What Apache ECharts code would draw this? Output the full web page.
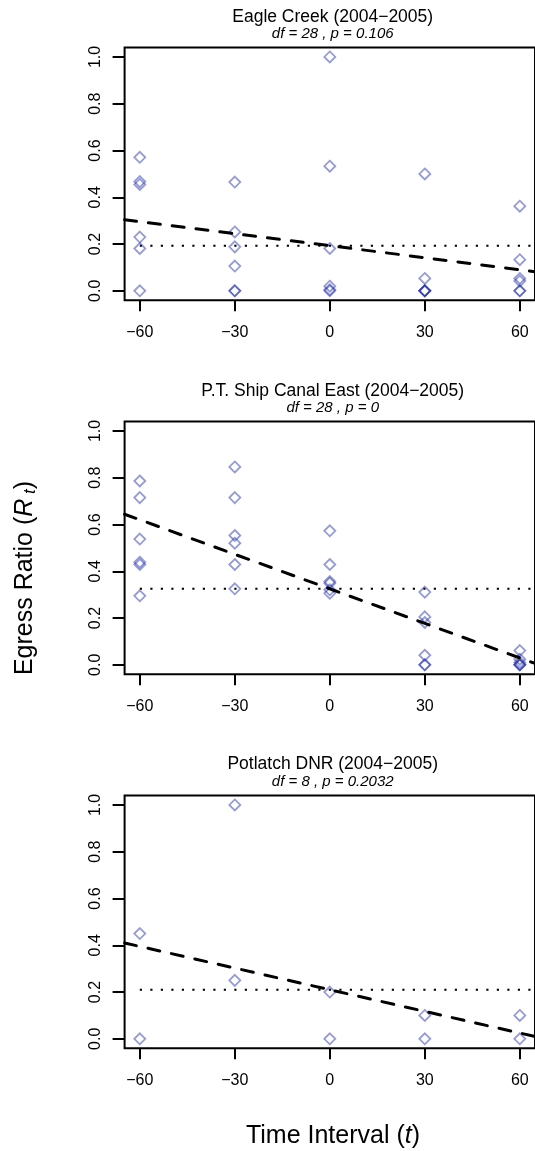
<!DOCTYPE html>
<html>
<head>
<meta charset="utf-8">
<script src="https://cdn.jsdelivr.net/npm/echarts@6/dist/echarts.min.js"></script>
<style>
html,body{margin:0;padding:0;background:#fff;}
#c{width:535px;height:1151px;}
</style>
</head>
<body>
<div id="c"></div>
<script>
// ---- data ----
const panelTitles = ['Eagle Creek (2004\u22122005)', 'P.T. Ship Canal East (2004\u22122005)', 'Potlatch DNR (2004\u22122005)'];
const panelStats = ['df = 28 , p = 0.106', 'df = 28 , p = 0', 'df = 8 , p = 0.2032'];
const xTicks = [-60, -30, 0, 30, 60];
const yTicks = [0, 0.2, 0.4, 0.6, 0.8, 1.0];

// time interval per point, and egress ratio per point
const eagleX = [-60,-60,-60,-60,-60,-60, -30,-30,-30,-30,-30,-30, 0,0,0,0,0,0, 30,30,30,30,30,30, 60,60,60,60,60,60];
const eagleY = [0.571,0.467,0.455,0.230,0.181,0.0, 0.465,0.252,0.188,0.106,0.0,0.0, 1.0,0.533,0.181,0.020,0.005,0.0, 0.500,0.053,0.0,0.0,0.0,0.0, 0.362,0.133,0.053,0.042,0.0,0.0];

const ptX = [-60,-60,-60,-60,-60,-60, -30,-30,-30,-30,-30,-30, 0,0,0,0,0,0, 30,30,30,30,30,30, 60,60,60,60,60,60];
const ptY = [0.786,0.715,0.538,0.439,0.429,0.295, 0.846,0.715,0.553,0.520,0.429,0.325, 0.573,0.429,0.356,0.349,0.321,0.306, 0.311,0.205,0.181,0.041,0.0,0.0, 0.061,0.024,0.010,0.0,0.0,0.0];

const potX = [-60,-60, -30,-30, 0,0, 30,30, 60,60];
const potY = [0.45,0.0, 1.0,0.25, 0.2,0.0, 0.1,0.0, 0.1,0.0];

// mean level (dotted) and fitted line values at the left/right plot edges (dashed)
const meanLevels = [0.193, 0.325, 0.210];
const fitLeft = [0.304, 0.644, 0.410];
const fitRight = [0.082, 0.006, 0.010];

const xLimits = [-64.8, 64.8];
const yLimits = [-0.04, 1.04];

// ---- layout ----
const panelX = [eagleX, ptX, potX];
const panelY = [eagleY, ptY, potY];
const gridTops = [47.6, 421.6, 795.6];
const gridH = 252.6;
const gridLeft = 124.6;
const gridW = 416.1;
const titleY = [16.7, 391, 764.3];
const subY = [34, 407.7, 782];
const FONT = '"Liberation Sans", Arial, Helvetica, sans-serif';

const chart = echarts.init(document.getElementById('c'), null, {renderer: 'canvas'});

const grids = [], xAxes = [], yAxes = [], series = [], graphics = [];
for (let i = 0; i < 3; i++) {
  grids.push({left: gridLeft, top: gridTops[i], width: gridW, height: gridH, show: true,
    borderColor: '#000', borderWidth: 2, backgroundColor: 'transparent', containLabel: false});
  xAxes.push({type: 'value', gridIndex: i, min: xLimits[0], max: xLimits[1], position: 'bottom',
    axisLine: {show: false, onZero: false},
    splitLine: {show: false},
    axisTick: {show: true, customValues: xTicks, length: 11, lineStyle: {color: '#000', width: 2}},
    axisLabel: {show: true, customValues: xTicks, margin: 24, color: '#000', fontSize: 16, fontFamily: FONT,
      formatter: v => (v < 0 ? '\u2212' + Math.abs(v) : String(v))}
  });
  yAxes.push({type: 'value', gridIndex: i, min: yLimits[0], max: yLimits[1], position: 'left',
    axisLine: {show: false, onZero: false},
    splitLine: {show: false},
    axisTick: {show: true, customValues: yTicks, length: 12, lineStyle: {color: '#000', width: 2}},
    axisLabel: {show: true, customValues: yTicks, rotate: 90, margin: 21, color: '#000', fontSize: 16, fontFamily: FONT,
      formatter: v => Number(v).toFixed(1)}
  });
  const pts = panelX[i].map((x, k) => [x, panelY[i][k]]);
  series.push({type: 'scatter', xAxisIndex: i, yAxisIndex: i, data: pts, symbol: 'diamond', symbolSize: 11,
    itemStyle: {color: 'rgba(0,0,0,0)', borderColor: 'rgba(40,52,172,0.62)', borderWidth: 1.8},
    emphasis: {disabled: true}, silent: true, z: 3});
  series.push({type: 'line', xAxisIndex: i, yAxisIndex: i, data: [[xTicks[0], meanLevels[i]], [xLimits[1], meanLevels[i]]],
    symbol: 'none', lineStyle: {color: '#000', width: 2, type: [2.2, 8.3]}, silent: true, z: 2});
  series.push({type: 'line', xAxisIndex: i, yAxisIndex: i, data: [[xLimits[0], fitLeft[i]], [xLimits[1], fitRight[i]]],
    symbol: 'none', lineStyle: {color: '#000', width: 3, type: [12, 12], cap: 'round'}, silent: true, z: 4});

  graphics.push({type: 'text', x: 332.7, y: titleY[i], style: {text: panelTitles[i], font: '17.5px ' + FONT,
    fill: '#000', align: 'center', verticalAlign: 'middle', textAlign: 'center', textVerticalAlign: 'middle'}});
  graphics.push({type: 'text', x: 332.7, y: subY[i], style: {text: panelStats[i], font: 'italic 15px ' + FONT,
    fill: '#000', align: 'center', verticalAlign: 'middle', textAlign: 'center', textVerticalAlign: 'middle'}});
}

graphics.push({type: 'text', x: 25, y: 578, rotation: Math.PI / 2,
  style: {text: '{a|Egress Ratio (}{i|R}{s| t}{a|)}', fill: '#000',
    align: 'center', verticalAlign: 'middle', textAlign: 'center', textVerticalAlign: 'middle',
    rich: {
      a: {fontSize: 25, fontFamily: FONT, fill: '#000', color: '#000'},
      i: {fontSize: 25, fontFamily: FONT, fontStyle: 'italic', fill: '#000', color: '#000'},
      s: {fontSize: 17, fontFamily: FONT, fontStyle: 'italic', fill: '#000', color: '#000', padding: [10, 0, 0, 0]}
    }}});
graphics.push({type: 'text', x: 333, y: 1136,
  style: {text: '{a|Time Interval (}{i|t}{a|)}', fill: '#000',
    align: 'center', verticalAlign: 'middle', textAlign: 'center', textVerticalAlign: 'middle',
    rich: {
      a: {fontSize: 25, fontFamily: FONT, fill: '#000', color: '#000'},
      i: {fontSize: 25, fontFamily: FONT, fontStyle: 'italic', fill: '#000', color: '#000'}
    }}});

chart.setOption({
  animation: false,
  backgroundColor: '#fff',
  grid: grids,
  xAxis: xAxes,
  yAxis: yAxes,
  series: series,
  graphic: graphics
});
</script>
</body>
</html>
